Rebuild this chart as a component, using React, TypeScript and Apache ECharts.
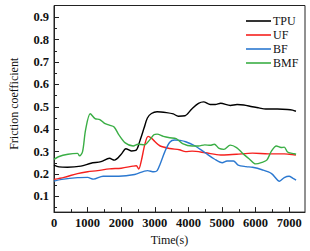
import React, { useEffect, useRef } from "react";
import * as echarts from "echarts";

const seriesNames = ["TPU", "UF", "BF", "BMF"];
const seriesColors = ["#000000", "#f5201e", "#2b78d0", "#3aae45"];

const tpu: [number, number][] = [
  [0, 0.24], [150, 0.232], [400, 0.23], [800, 0.235], [1100, 0.248], [1400, 0.255],
  [1650, 0.27], [1800, 0.262], [2000, 0.288], [2140, 0.313], [2300, 0.303], [2450, 0.307],
  [2560, 0.35], [2680, 0.405], [2780, 0.45], [2900, 0.47], [3067, 0.478], [3350, 0.474],
  [3550, 0.468], [3700, 0.458], [3900, 0.46], [4100, 0.49], [4300, 0.515], [4450, 0.522],
  [4650, 0.51], [4800, 0.51], [4960, 0.516], [5250, 0.506], [5450, 0.51], [5650, 0.508],
  [5900, 0.5], [6100, 0.495], [6300, 0.49], [6650, 0.49], [6950, 0.488], [7100, 0.485],
  [7200, 0.48],
];

const uf: [number, number][] = [
  [0, 0.176], [300, 0.185], [700, 0.202], [1000, 0.21], [1300, 0.215], [1650, 0.223],
  [2000, 0.226], [2350, 0.235], [2450, 0.237], [2520, 0.222], [2600, 0.26], [2700, 0.33],
  [2800, 0.368], [2900, 0.36], [3000, 0.345], [3160, 0.325], [3445, 0.314], [3730, 0.308],
  [3919, 0.3], [4110, 0.302], [4500, 0.295], [4960, 0.285], [5200, 0.286], [5433, 0.288],
  [5907, 0.293], [6380, 0.29], [6853, 0.29], [7000, 0.288], [7200, 0.285],
];

const bf: [number, number][] = [
  [0, 0.168], [230, 0.176], [700, 0.184], [1000, 0.185], [1175, 0.177], [1460, 0.19],
  [1930, 0.19], [2400, 0.198], [2783, 0.215], [2973, 0.21], [3070, 0.215], [3160, 0.245],
  [3300, 0.3], [3445, 0.342], [3590, 0.352], [3750, 0.35], [3919, 0.344], [4203, 0.325],
  [4487, 0.296], [4771, 0.267], [5007, 0.25], [5150, 0.258], [5340, 0.258], [5480, 0.24],
  [5717, 0.233], [5907, 0.23], [6190, 0.219], [6475, 0.202], [6711, 0.168], [6853, 0.184],
  [6995, 0.19], [7100, 0.182], [7205, 0.173],
];

const bmf: [number, number][] = [
  [0, 0.265], [133, 0.277], [417, 0.288], [700, 0.292], [760, 0.281], [850, 0.3],
  [940, 0.397], [1080, 0.469], [1221, 0.447], [1363, 0.443], [1505, 0.426], [1647, 0.418],
  [1789, 0.41], [1931, 0.375], [2120, 0.339], [2357, 0.325], [2500, 0.333], [2689, 0.33],
  [2830, 0.349], [2973, 0.375], [3067, 0.378], [3255, 0.368], [3445, 0.362], [3635, 0.358],
  [3825, 0.336], [4110, 0.325], [4300, 0.325], [4487, 0.33], [4650, 0.328], [4771, 0.333],
  [4913, 0.314], [5055, 0.31], [5245, 0.329], [5433, 0.318], [5623, 0.291], [5813, 0.267],
  [6000, 0.245], [6190, 0.252], [6333, 0.262], [6475, 0.303], [6617, 0.325], [6760, 0.318],
  [6853, 0.32], [6950, 0.298], [7100, 0.292], [7205, 0.288],
];

const xTicks = [0, 1000, 2000, 3000, 4000, 5000, 6000, 7000];
const xMinorTicks = [500, 1500, 2500, 3500, 4500, 5500, 6500];
const yTicks = [0.1, 0.2, 0.3, 0.4, 0.5, 0.6, 0.7, 0.8, 0.9];
const yMinorTicks = [0.05, 0.15, 0.25, 0.35, 0.45, 0.55, 0.65, 0.75, 0.85];

const X_MIN = 0;
const X_MAX = 7470;
const Y_MIN = 0.03;
const Y_MAX = 0.952;

const FONT = "'Liberation Serif', 'Times New Roman', serif";
const AXIS_COLOR = "#222";

export default function App() {
  const ref = useRef<HTMLDivElement>(null);

  useEffect(() => {
    if (!ref.current) return;
    const chart = echarts.init(ref.current, undefined, { renderer: "svg" });
    const allData = [tpu, uf, bf, bmf];

    const xBase = {
      type: "value" as const,
      min: X_MIN,
      max: X_MAX,
      position: "bottom" as const,
    };
    const yBase = {
      type: "value" as const,
      min: Y_MIN,
      max: Y_MAX,
      position: "left" as const,
    };

    chart.setOption({
      animation: false,
      backgroundColor: "#ffffff",
      grid: {
        left: 42,
        right: 5,
        top: 5.5,
        bottom: 33,
        show: true,
        borderColor: AXIS_COLOR,
        borderWidth: 1,
        backgroundColor: "transparent",
      },
      legend: {
        orient: "vertical",
        left: 246,
        top: 14,
        padding: 0,
        icon: "rect",
        itemWidth: 25,
        itemHeight: 1.6,
        itemGap: 0,
        data: seriesNames,
        textStyle: {
          fontFamily: FONT,
          fontSize: 12,
          lineHeight: 14,
          height: 14,
          color: "#111",
          padding: [0, 0, 0, -3],
        },
      },
      xAxis: [
        {
          ...xBase,
          name: "Time(s)",
          nameLocation: "middle",
          nameGap: 20,
          nameTextStyle: {
            fontFamily: FONT,
            fontSize: 12,
            color: "#111",
            padding: [0, 20, 0, 0],
          },
          axisLine: { show: true, lineStyle: { color: AXIS_COLOR, width: 1 } },
          axisTick: {
            show: true,
            inside: true,
            length: 5,
            customValues: xTicks,
            lineStyle: { color: AXIS_COLOR },
          },
          axisLabel: {
            customValues: xTicks,
            margin: 4,
            fontFamily: FONT,
            fontSize: 12.5,
            fontWeight: "bold",
            color: "#111",
            formatter: (v: number) => String(v),
          },
          splitLine: { show: false },
        },
        {
          ...xBase,
          axisLine: { show: false },
          axisTick: {
            show: true,
            inside: true,
            length: 3,
            customValues: xMinorTicks,
            lineStyle: { color: AXIS_COLOR },
          },
          axisLabel: { show: false },
          splitLine: { show: false },
        },
      ],
      yAxis: [
        {
          ...yBase,
          name: "Friction coefficient",
          nameLocation: "middle",
          nameGap: 34,
          nameRotate: 90,
          nameTextStyle: {
            fontFamily: FONT,
            fontSize: 12,
            color: "#111",
            padding: [0, 0, 0, 10],
          },
          axisLine: { show: true, lineStyle: { color: AXIS_COLOR, width: 1 } },
          axisTick: {
            show: true,
            inside: true,
            length: 5,
            customValues: yTicks,
            lineStyle: { color: AXIS_COLOR },
          },
          axisLabel: {
            customValues: yTicks,
            margin: 5,
            fontFamily: FONT,
            fontSize: 12.5,
            fontWeight: "bold",
            color: "#111",
            formatter: (v: number) => v.toFixed(1),
          },
          splitLine: { show: false },
        },
        {
          ...yBase,
          axisLine: { show: false },
          axisTick: {
            show: true,
            inside: true,
            length: 3,
            customValues: yMinorTicks,
            lineStyle: { color: AXIS_COLOR },
          },
          axisLabel: { show: false },
          splitLine: { show: false },
        },
      ],
      series: seriesNames.map((name, i) => ({
        name,
        type: "line",
        xAxisIndex: 0,
        yAxisIndex: 0,
        data: allData[i],
        symbol: "none",
        smooth: 0.3,
        lineStyle: { color: seriesColors[i], width: 1.4 },
        itemStyle: { color: seriesColors[i] },
      })),
    });

    return () => chart.dispose();
  }, []);

  return (
    <div
      ref={ref}
      style={{ position: "fixed", left: 0, top: 0, width: 310, height: 251, background: "#fff" }}
    />
  );
}
